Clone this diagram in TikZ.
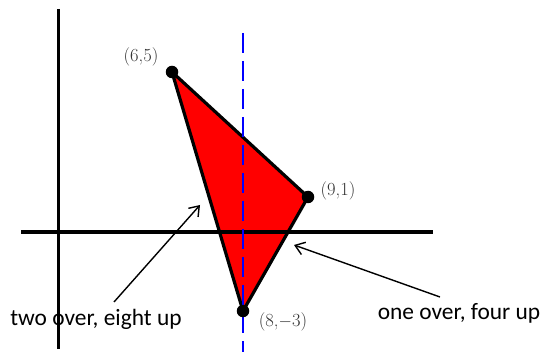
\documentclass[tikz,border=0pt]{standalone}
\usepackage{fontspec}
\usetikzlibrary{arrows.meta}
\newfontfamily\notefont{Carlito}
\definecolor{trired}{RGB}{255,0,0}
\definecolor{symblue}{RGB}{0,0,255}
\definecolor{labelgray}{HTML}{333333}
\tikzset{
  axisline/.style={draw=black, line width=3.2pt},
  edgeline/.style={draw=black, line width=3.2pt, line join=round},
  vdot/.style={circle, fill=black, minimum size=12.5pt, inner sep=0pt},
  symline/.style={draw=symblue, line width=2.4pt, dash pattern=on 20pt off 8pt},
  ptlabel/.style={font=\fontsize{18.5}{20}\selectfont, text=labelgray, inner sep=0pt},
  notelabel/.style={font=\notefont\fontsize{23.4}{26}\selectfont, inner sep=0pt},
  notearrow/.style={-{Straight Barb[length=9pt, width=13pt]}, line width=1.4pt},
}

\begin{document}
\begin{tikzpicture}[x=1pt, y=-1pt]
\useasboundingbox (0,0) rectangle (545,352);

% Vertices of the triangle.
\coordinate (P) at (172,72);
\coordinate (Q) at (308,197);
\coordinate (R) at (243,311);

% Filled triangle and its edges.
\fill[trired] (P) -- (Q) -- (R) -- cycle;
\draw[edgeline] (P) -- (Q) -- (R) -- cycle;

% Axes.
\coordinate (xl) at (21,232);
\coordinate (xr) at (433,232);
\coordinate (yt) at (58.5,9);
\coordinate (yb) at (58.5,349);
\draw[axisline] (xl) -- (xr);
\draw[axisline] (yt) -- (yb);

% Dashed vertical line through the bottom vertex.
\coordinate (st) at (243,33);
\coordinate (sb) at (243,352);
\draw[symline] (st) -- (sb);

% Dots and their coordinates.
\node[vdot] (vP) at (P) {};
\node[vdot] (vQ) at (Q) {};
\node[vdot] (vR) at (R) {};
\node[ptlabel] (lP) at (141,57) {(6,5)};
\node[ptlabel] (lQ) at (338,191) {(9,1)};
\node[ptlabel] (lR) at (283,322) {(8,$-$3)};

% Notes on the slopes.
\node[notelabel] (left) at (96,319) {two over, eight up};
\node[notelabel] (right) at (459,313) {one over, four up};
\coordinate (ltail) at (114,302);
\coordinate (ltip) at (200,205);
\coordinate (rtail) at (440,297);
\coordinate (rtip) at (294,245);
\draw[notearrow] (ltail) -- (ltip);
\draw[notearrow] (rtail) -- (rtip);

\end{tikzpicture}
\end{document}
